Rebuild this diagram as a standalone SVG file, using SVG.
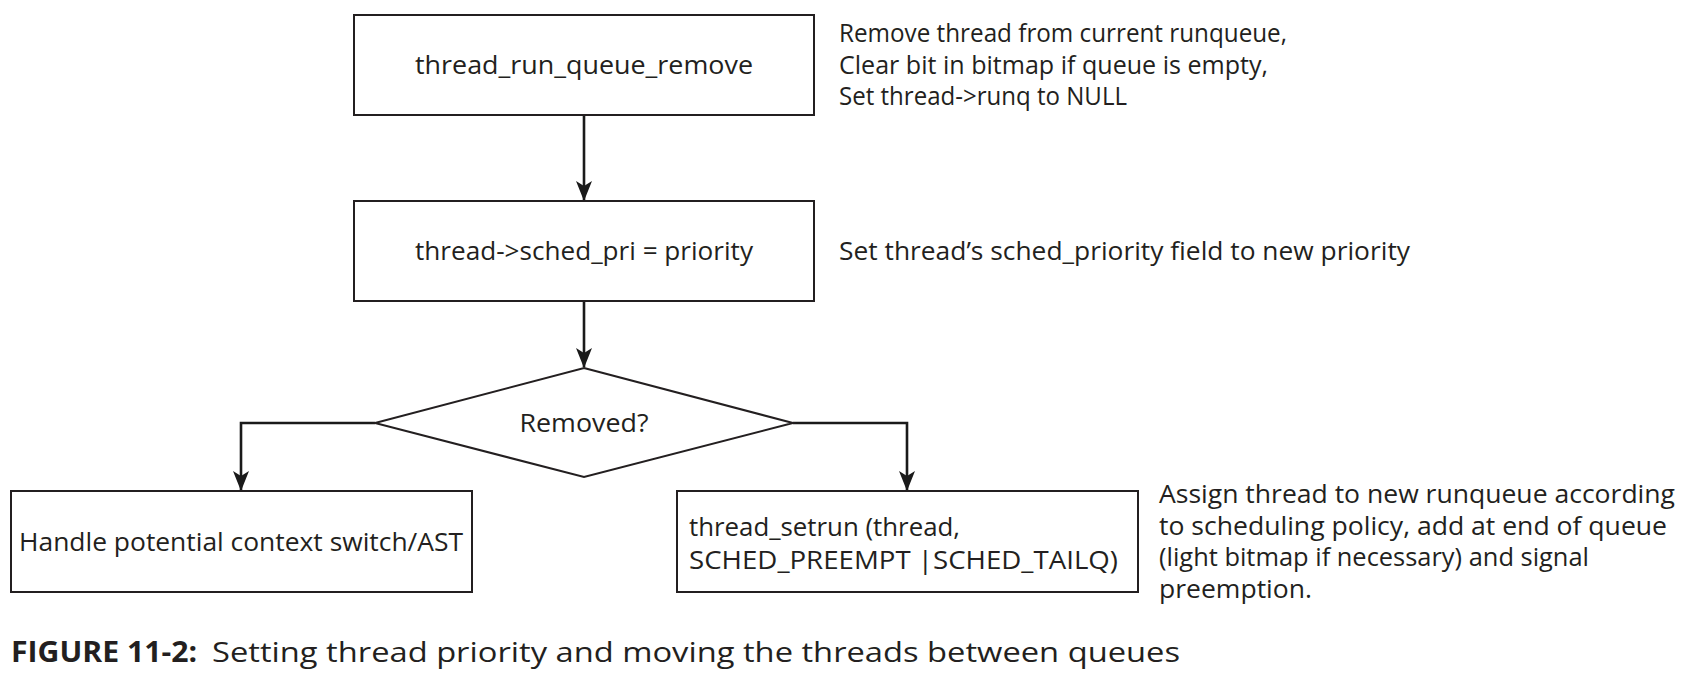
<svg xmlns="http://www.w3.org/2000/svg" width="1686" height="680" viewBox="0 0 1686 680">
  <style>
    .box { fill: #ffffff; stroke: #231f20; stroke-width: 2; }
    .conn { fill: none; stroke: #1a1a1a; stroke-width: 2.6; }
    .t { font-family: "Open Sans", "Liberation Sans", sans-serif; font-size: 25px; fill: #231f20; }
    .c { text-anchor: middle; }
    .cap { font-family: "Open Sans", "Liberation Sans", sans-serif; font-size: 28px; fill: #231f20; }
  </style>
  <defs>
    <marker id="arr" viewBox="0 0 20 16" markerWidth="20" markerHeight="16" refX="19" refY="8" orient="auto" markerUnits="userSpaceOnUse">
      <path d="M0,0 L20,8 L0,16 L5,8 z" fill="#1a1a1a"/>
    </marker>
  </defs>
  <rect width="1686" height="680" fill="#ffffff"/>

  <g id="connectors">
    <path class="conn" d="M584,115 L584,200" marker-end="url(#arr)"/>
    <path class="conn" d="M584,301 L584,367" marker-end="url(#arr)"/>
    <path class="conn" d="M375,423 L241,423 L241,490" marker-end="url(#arr)"/>
    <path class="conn" d="M793,423 L907,423 L907,490" marker-end="url(#arr)"/>
  </g>

  <g id="remove">
    <rect class="box" x="354" y="15" width="460" height="100"/>
    <text class="t c" x="584" y="74" textLength="338" lengthAdjust="spacingAndGlyphs">thread_run_queue_remove</text>
  </g>
  <g id="remove-note">
    <text class="t" x="839" y="42" textLength="448" lengthAdjust="spacingAndGlyphs">Remove thread from current runqueue,</text>
    <text class="t" x="839" y="74" textLength="429" lengthAdjust="spacingAndGlyphs">Clear bit in bitmap if queue is empty,</text>
    <text class="t" x="839" y="105" textLength="288" lengthAdjust="spacingAndGlyphs">Set thread-&gt;runq to NULL</text>
  </g>

  <g id="setpri">
    <rect class="box" x="354" y="201" width="460" height="100"/>
    <text class="t c" x="584" y="260" textLength="338" lengthAdjust="spacingAndGlyphs">thread-&gt;sched_pri = priority</text>
  </g>
  <g id="setpri-note">
    <text class="t" x="839" y="260" textLength="571" lengthAdjust="spacingAndGlyphs">Set thread’s sched_priority field to new priority</text>
  </g>

  <g id="removed">
    <polygon class="box" points="584,368 793,423 584,477 375,423"/>
    <text class="t c" x="584" y="432" textLength="129" lengthAdjust="spacingAndGlyphs">Removed?</text>
  </g>

  <g id="handle">
    <rect class="box" x="11" y="491" width="461" height="101"/>
    <text class="t c" x="241" y="551" textLength="444" lengthAdjust="spacingAndGlyphs">Handle potential context switch/AST</text>
  </g>

  <g id="setrun">
    <rect class="box" x="677" y="491" width="461" height="101"/>
    <text class="t" x="689" y="536" textLength="271" lengthAdjust="spacingAndGlyphs">thread_setrun (thread,</text>
    <text class="t" x="689" y="569" textLength="429" lengthAdjust="spacingAndGlyphs">SCHED_PREEMPT |SCHED_TAILQ)</text>
  </g>
  <g id="setrun-note">
    <text class="t" x="1159" y="503" textLength="516" lengthAdjust="spacingAndGlyphs">Assign thread to new runqueue according</text>
    <text class="t" x="1159" y="535" textLength="508" lengthAdjust="spacingAndGlyphs">to scheduling policy, add at end of queue</text>
    <text class="t" x="1159" y="566" textLength="430" lengthAdjust="spacingAndGlyphs">(light bitmap if necessary) and signal</text>
    <text class="t" x="1159" y="598" textLength="153" lengthAdjust="spacingAndGlyphs">preemption.</text>
  </g>

  <g id="caption">
    <text class="cap" x="11" y="662" font-weight="bold" textLength="186" lengthAdjust="spacingAndGlyphs">FIGURE 11-2:</text>
    <text class="cap" x="212" y="662" textLength="968" lengthAdjust="spacingAndGlyphs">Setting thread priority and moving the threads between queues</text>
  </g>
</svg>
